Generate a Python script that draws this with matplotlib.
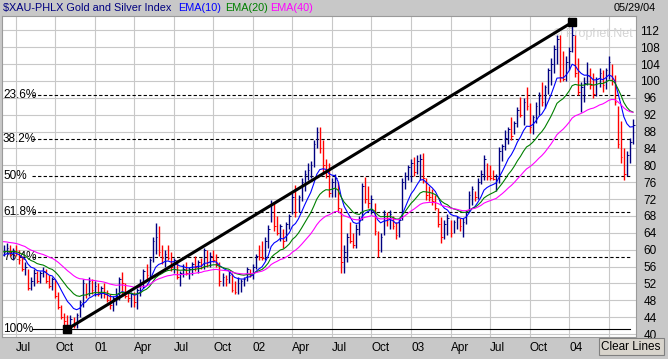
import matplotlib
matplotlib.use("Agg")
import matplotlib.pyplot as plt
from matplotlib.patches import Rectangle
import numpy as np
import pandas as pd

plt.rcParams['font.family'] = ['Liberation Sans', 'DejaVu Sans']

# weekly bars of $XAU (week ending Fridays)
HIGH = [61, 61.5, 61, 60.5, 61, 60, 58.5, 57, 55.5, 53.5,
        55.5, 55, 55, 56, 55.5, 54, 53.5, 53, 50, 47,
        45, 44.5, 44.5, 44, 45, 48, 53, 52, 53.5, 53,
        52.5, 52, 51.5, 52, 50.5, 49.5, 49, 51, 53.5, 54.8,
        52, 50, 50, 50, 51, 53, 55.5, 56.5, 58, 63,
        66.3, 65.5, 61, 60, 61, 59.5, 58, 57.5, 55, 56.5,
        57, 56, 57, 58.5, 57.5, 58, 60.5, 60, 59.5, 60,
        59, 57, 54.5, 54, 55, 54.5, 52.5, 53.5, 53, 53.5,
        56, 55.5, 56.5, 59, 61, 62, 63, 65.8, 71.8, 71,
        68, 66, 65, 66.5, 68.5, 73.4, 75.3, 73, 77, 79,
        80.5, 81, 86, 89, 89, 86, 81.5, 80.5, 77, 78,
        76, 70, 61, 64, 66.5, 64, 66, 68, 75.8, 77.2,
        75, 73, 71, 64.5, 64, 69.4, 69, 69.5, 68, 66.5,
        67.5, 77, 78.5, 80, 81.5, 82, 82.5, 82.8, 83, 77,
        75, 74.5, 73, 70, 67.7, 67, 68.5, 67, 67, 68,
        67.5, 67.5, 69.5, 74, 75, 74, 77, 79, 82.4, 80.5,
        80, 79, 78, 84.3, 85, 88.3, 89, 91.4, 90.5, 93.8,
        96.2, 96, 98.5, 94.7, 92, 95, 97.3, 99.7, 99, 103,
        105.4, 108.5, 110.8, 110.8, 107, 106, 108, 113.9, 111, 105.4,
        99.7, 101, 104.5, 103, 101.8, 101, 103, 102.5, 103, 106,
        104, 101.4, 94, 90.5, 84, 83.5, 86.5, 91]
LOW = [58.5, 59, 58.5, 57.5, 58.5, 56.5, 55, 54, 50.5, 50.5,
       51.5, 52, 52, 53.5, 52, 51, 50.5, 48.5, 46, 43.5,
       41.5, 41.2, 41.5, 41.5, 41.5, 44, 46.5, 48.5, 49, 49.5,
       49, 49, 48.5, 48.5, 47.5, 46, 45.5, 47, 48, 49,
       48.5, 47.5, 46.5, 46.5, 46, 49, 51, 53, 53.5, 57,
       59, 58.5, 56.5, 56, 57.5, 55, 54.5, 53, 51.5, 53.5,
       54, 53, 54, 55, 54.5, 55.5, 55.5, 56, 56, 57,
       56, 51.5, 51.5, 51.5, 52, 50, 49.5, 49.5, 50, 51.5,
       52.5, 53.5, 53, 55.5, 57.5, 57.5, 57.5, 60.5, 66.5, 64.5,
       63.5, 62, 60.5, 62, 65, 68.5, 67.7, 69, 71.5, 74,
       76.5, 77, 79.5, 84, 83, 78.5, 77, 72.5, 72.5, 72.5,
       69, 54.5, 54.5, 57, 61.5, 60.5, 60.5, 63.5, 67, 71,
       70, 68.5, 63.5, 58.2, 59.5, 63.5, 65.5, 65, 65, 62.5,
       63, 67, 74.5, 76.5, 76, 77.5, 78, 76.5, 75.8, 71.8,
       71.5, 70.5, 69.5, 65.4, 61.6, 62.5, 63.5, 63, 64, 65,
       64.5, 63, 66, 69, 70.5, 71.5, 72, 75.5, 76.5, 76.5,
       76.5, 76.5, 74, 75.8, 81, 83.6, 85, 86, 87.5, 89,
       91.4, 89.5, 93, 87.6, 87.5, 90, 92, 94, 93.6, 97,
       99, 102, 104, 99.7, 100, 100, 102.5, 106.8, 101, 96.6,
       92.6, 95, 99, 98, 96, 96.5, 98.5, 97.5, 98, 100.5,
       99, 94.3, 84, 80.5, 76.5, 77.5, 80.5, 85]
CLOSE = [59.5, 60.5, 59, 60, 59, 57.5, 55.5, 56, 51, 52.5,
         54.5, 52.5, 54.5, 55, 52.5, 51.5, 53, 49, 46.5, 44,
         43, 42, 43.5, 42, 44.5, 47.5, 52, 49.5, 52.5, 50.5,
         51.5, 49.5, 51, 49.5, 48, 47, 48.5, 49, 53, 52,
         49, 48.5, 49.5, 47.5, 50.5, 52, 55, 54, 57.5, 62,
         63, 59.5, 58, 59, 58, 56, 57.5, 53.5, 54.5, 55.5,
         54.5, 55.5, 56.5, 56, 57, 56, 60, 57, 58.5, 57.5,
         56.5, 52.5, 53.5, 53, 54, 50.5, 50, 52, 52.5, 53,
         55.5, 54, 56, 58.5, 58.3, 58, 62, 65, 71, 65.5,
         64, 65.5, 62, 66, 68, 72.5, 69, 72.5, 76, 78,
         79, 80, 85, 88, 84, 80, 78.5, 73.5, 76, 77,
         70, 57, 59.5, 63, 62, 61, 65, 67, 75, 72,
         71, 72, 64.5, 60, 63, 68.5, 67.5, 68.5, 65.5, 63.5,
         67, 76, 77.5, 79.5, 80.5, 78.5, 81, 81.5, 77, 73,
         72.5, 71.5, 70, 66, 63, 66, 67.5, 64, 66.5, 67.5,
         65.5, 66.5, 69, 73, 74.5, 72.5, 76, 78, 81.5, 77.5,
         77, 76.8, 77.5, 83.5, 84.5, 86.5, 88.5, 87, 90, 93,
         92, 95, 94, 89, 91.5, 94, 96.5, 95, 98.5, 102.5,
         104, 107.5, 110, 101, 100.5, 104.5, 107, 111, 102, 97.5,
         98.5, 99.5, 101.5, 99, 97, 100.5, 102, 99, 102.5, 104.5,
         100, 95, 85, 82, 78, 82.5, 85.5, 89.5]
DATES = pd.date_range(end="2004-05-28", periods=len(CLOSE), freq="W-FRI")

# EMA values at the first visible week (history before the window)
EMA_START = {10: 58.7, 20: 59.5, 40: 61.9}
EMA_COLORS = {10: "#0000ff", 20: "#008000", 40: "#ff00ff"}

FIB_RATIOS = [0.236, 0.382, 0.5, 0.618, 0.764, 1.0]
FIB_LABELS = ["23.6%", "38.2%", "50%", "61.8%", "76.4%", "100%"]
YTICKS = list(range(40, 113, 4))

UP, DOWN = "#000080", "#ff0000"
PANEL = "#c8c8c8"
W, H = 668, 359


def ema(values, n, start):
    a = 2.0 / (n + 1)
    out = [start]
    for v in values[1:]:
        out.append(out[-1] + a * (v - out[-1]))
    return np.array(out)


def main():
    hi, lo, cl = np.array(HIGH), np.array(LOW), np.array(CLOSE)
    x = np.arange(len(cl))

    fig = plt.figure(figsize=(W / 100, H / 100), dpi=100, facecolor=PANEL)
    ax = fig.add_axes([2 / W, (H - 337) / H, 634 / W, 321 / H])
    ax.set_facecolor("white")
    ax.set_xlim(-0.53, 208.0)
    ax.set_ylim(39.3, 115.4)

    # quarter gridlines at the first week of Jan/Apr/Jul/Oct
    ticks, labels = [], []
    for i in range(1, len(DATES)):
        d, p = DATES[i], DATES[i - 1]
        if d.month != p.month and d.month in (1, 4, 7, 10):
            ticks.append(i)
            labels.append(f"{d.year % 100:02d}" if d.month == 1 else d.strftime("%b"))
    labels[-1] = ""          # last "Apr" sits under the Clear Lines button
    ax.set_xticks(ticks)
    ax.set_xticklabels(labels, ha="left", fontsize=8.5)
    ax.tick_params(axis="x", length=0, pad=3.5)

    ax.yaxis.tick_right()
    ax.set_yticks(YTICKS)
    ax.set_yticklabels([str(v) for v in YTICKS], ha="center", fontsize=8.5)
    ax.tick_params(axis="y", length=0, pad=10)
    ax.grid(True, color="#c8c8c8", lw=0.8, zorder=0)
    ax.set_axisbelow(True)
    for s in ax.spines.values():
        s.set_color("#9a9a9a")
        s.set_linewidth(0.8)

    # fibonacci retracement between trend low and high
    i_lo, i_hi = int(np.argmin(lo)), int(np.argmax(hi))
    low, high = lo[i_lo], hi[i_hi]
    for r, lab in zip(FIB_RATIOS, FIB_LABELS):
        lvl = high - r * (high - low)
        ax.axhline(lvl, xmin=0.047, xmax=0.99, color="black", lw=0.8,
                   ls="-" if r == 1.0 else (0, (3, 2)), zorder=1)
        ax.text(1 / 634, lvl, lab, transform=ax.get_yaxis_transform(),
                ha="left", va="center", fontsize=8.5, zorder=1)

    ax.text(0.995, 0.945, "\u00a9 Prophet.Net", transform=ax.transAxes,
            ha="right", va="center", fontsize=9, color="#d4d4d4", zorder=1)

    # price bars
    colors = [UP] + [UP if cl[i] >= cl[i - 1] else DOWN for i in range(1, len(cl))]
    ax.vlines(x, lo, hi, colors=colors, lw=1.0, zorder=3)
    ax.hlines(cl, x, x + 0.55, colors=colors, lw=0.7, zorder=3)

    for n, c in EMA_COLORS.items():
        ax.plot(x, ema(cl, n, EMA_START[n]), color=c, lw=0.8, zorder=4)

    # trend line low -> high
    ax.plot([i_lo, i_hi], [low, high], color="black", lw=2.2, zorder=5,
            solid_capstyle="butt")
    ax.plot([i_lo, i_hi], [low, high], ls="none", marker="s", ms=6,
            color="black", zorder=6)

    # header
    ty = 1 - 8 / H
    fig.text(3 / W, ty, r"\$XAU-PHLX Gold and Silver Index", color="#000080",
             fontsize=7.8, va="center")
    for n, xp in zip((10, 20, 40), (178, 225, 270)):
        fig.text(xp / W, ty, f"EMA({n})", color=EMA_COLORS[n], fontsize=7.8, va="center")
    fig.text(656 / W, ty, "05/29/04", fontsize=7.8, va="center", ha="right")

    # "Clear Lines" button
    fig.patches.append(Rectangle((599 / W, 1 - 355 / H), 65 / W, 17 / H,
                                 transform=fig.transFigure, facecolor="#d8d4cc",
                                 edgecolor="#808080", lw=0.8))
    fig.text(631 / W, 1 - 347 / H, "Clear Lines", fontsize=8.5, ha="center", va="center")

    fig.savefig("out.png", dpi=100, facecolor=PANEL)


if __name__ == "__main__":
    main()
